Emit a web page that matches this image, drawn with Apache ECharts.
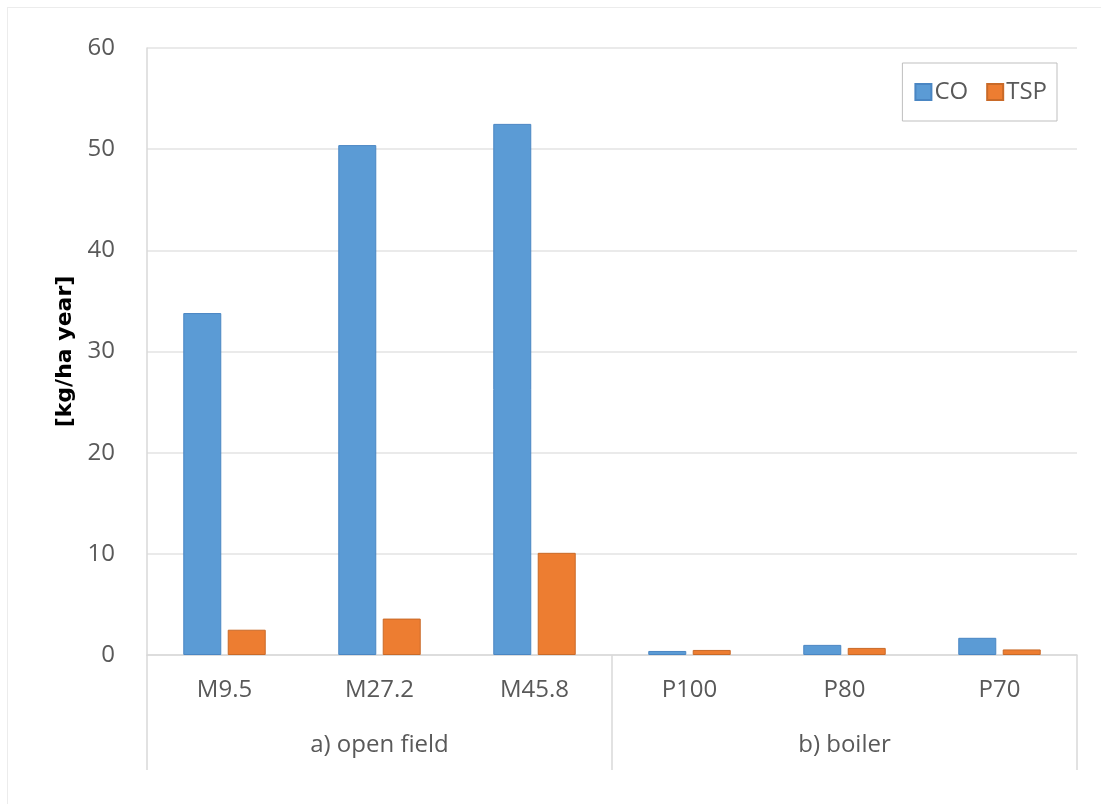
<!DOCTYPE html>
<html>
<head>
<meta charset="utf-8">
<script src="https://cdn.jsdelivr.net/npm/echarts@6/dist/echarts.min.js"></script>
<style>
html,body{margin:0;padding:0;background:#fff;}
#frame{position:absolute;left:7px;top:7px;width:1100px;height:800px;border-left:1px solid #ececec;border-top:1px solid #ececec;}
#chart{position:absolute;left:0;top:0;width:1101px;height:804px;}
</style>
</head>
<body>
<div id="frame"></div>
<div id="chart"></div>
<script>
const categories = ['M9.5', 'M27.2', 'M45.8', 'P100', 'P80', 'P70'];
const groups = ['a) open field', 'b) boiler'];
const coValues = [33.8, 50.4, 52.5, 0.4, 1.0, 1.7];
const tspValues = [2.5, 3.6, 10.1, 0.5, 0.7, 0.55];
const yTicks = { min: 0, max: 60, interval: 10 };

const FONT = 'Open Sans';
const chart = echarts.init(document.getElementById('chart'), null, { renderer: 'canvas' });
chart.setOption({
  animation: false,
  backgroundColor: 'transparent',
  grid: { left: 147, right: 24, top: 48, bottom: 149, containLabel: false },
  legend: {
    right: 44, top: 63,
    padding: [17, 10, 17, 12],
    itemGap: 18,
    itemWidth: 16, itemHeight: 16,
    icon: 'rect',
    borderColor: '#bfbfbf', borderWidth: 1,
    backgroundColor: '#fff',
    textStyle: { color: '#595959', fontSize: 24, fontFamily: FONT, padding: [0, 0, 0, -2] },
    data: ['CO', 'TSP']
  },
  xAxis: [
    {
      type: 'category', data: categories, position: 'bottom',
      axisLine: { show: true, lineStyle: { color: '#d9d9d9', width: 1.5 } },
      axisTick: { show: false },
      axisLabel: { color: '#595959', fontSize: 24, fontFamily: FONT, margin: 23 },
      splitLine: { show: false }
    },
    {
      type: 'category', data: groups, position: 'bottom', gridIndex: 0,
      axisLine: { show: false },
      axisTick: { show: true, length: 115, lineStyle: { color: '#d9d9d9', width: 1.5 } },
      axisLabel: { color: '#595959', fontSize: 24, fontFamily: FONT, margin: 78 },
      splitLine: { show: false }
    }
  ],
  yAxis: {
    type: 'value', min: yTicks.min, max: yTicks.max, interval: yTicks.interval,
    name: '[kg/ha year]', nameLocation: 'middle', nameGap: 70,
    nameTextStyle: { color: '#000', fontSize: 22, fontWeight: 'bold', fontFamily: 'DejaVu Sans' },
    axisLine: { show: true, lineStyle: { color: '#d9d9d9', width: 1.5 } },
    axisTick: { show: false },
    axisLabel: { color: '#595959', fontSize: 24, fontFamily: FONT, margin: 32 },
    splitLine: { show: true, lineStyle: { color: '#e3e3e3', width: 1.5 } }
  },
  series: [
    {
      name: 'CO', type: 'bar', data: coValues, xAxisIndex: 0,
      barWidth: 38, barGap: '17%',
      itemStyle: { color: '#5b9bd5', borderColor: '#4a86c3', borderWidth: 1 }
    },
    {
      name: 'TSP', type: 'bar', data: tspValues, xAxisIndex: 0,
      barWidth: 38, barGap: '17%',
      itemStyle: { color: '#ed7d31', borderColor: '#c96a28', borderWidth: 1 }
    }
  ]
});
</script>
</body>
</html>
